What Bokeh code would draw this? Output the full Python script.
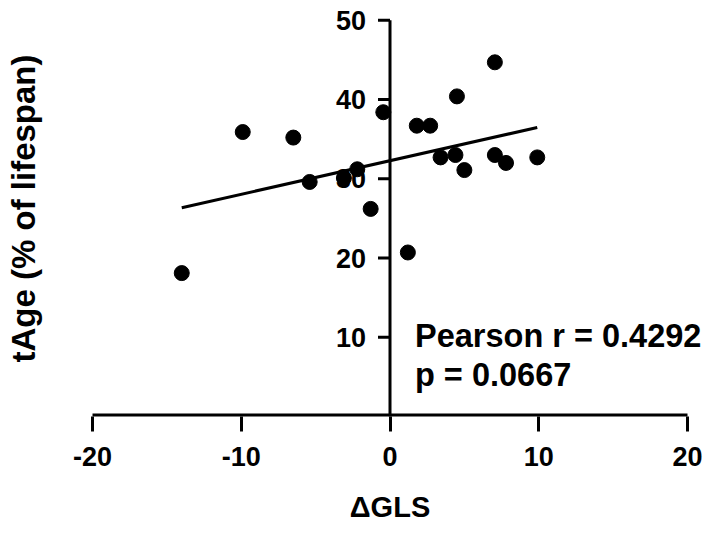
import numpy as np
from bokeh.plotting import figure
from bokeh.models import FixedTicker, Range1d, Label
from bokeh.core.properties import value
from bokeh.embed import file_html
from bokeh.resources import INLINE

# ---- data ----
delta_gls = [-14.0, -9.9, -6.5, -5.4, -3.1, -2.2, -1.3, -0.45, 1.2, 1.8,
             2.7, 3.4, 4.4, 4.5, 5.0, 7.05, 7.05, 7.8, 9.9]
tage = [18.1, 35.9, 35.2, 29.6, 30.1, 31.2, 26.2, 38.4, 20.7, 36.7,
        36.7, 32.7, 33.0, 40.4, 31.1, 44.7, 33.0, 32.0, 32.7]
x_ticks = [-20, -10, 0, 10, 20]
x_tick_labels = ["-20", "-10", "0", "10", "20"]
y_ticks = [10, 20, 30, 40, 50]
y_tick_labels = ["10", "20", "30", "40", "50"]
stats_text = ["Pearson r = 0.4292", "p = 0.0667"]
x_title = "\u0394GLS"
y_title = "tAge (% of lifespan)"

FONT = "Liberation Sans"

# frame extends a little past +/-20 so the statistics text is not clipped
p = figure(width=717, height=528, output_backend="svg", toolbar_location=None,
           x_range=Range1d(-21.345, 21.345), y_range=Range1d(0, 52.5),
           min_border_left=72, min_border_right=10, min_border_top=0,
           min_border_bottom=112)
p.outline_line_color = None
p.grid.visible = False
p.background_fill_color = "white"
p.border_fill_color = "white"

# x axis (bottom): ticks and labels from the axis, rule drawn only from -20 to 20
xa = p.xaxis[0]
xa.ticker = FixedTicker(ticks=x_ticks)
xa.major_label_overrides = {t: s for t, s in zip(x_ticks, x_tick_labels)}
xa.axis_line_color = None
xa.major_tick_line_width = 3
xa.major_tick_line_color = "black"
xa.major_tick_out = 15
xa.major_tick_in = 0
xa.minor_tick_line_color = None
xa.major_label_standoff = 15
xa.major_label_text_font = FONT
xa.major_label_text_font_style = "bold"
xa.major_label_text_font_size = "27px"
xa.major_label_text_color = "black"
xa.axis_label = x_title
xa.axis_label_text_font = FONT
xa.axis_label_text_font_style = "bold"
xa.axis_label_text_font_size = "29px"
xa.axis_label_text_color = "black"
xa.axis_label_standoff = 22

p.segment(x0=[min(x_ticks)], y0=[p.y_range.start], x1=[max(x_ticks)],
          y1=[p.y_range.start], line_width=6, line_color="black")

# left axis only carries the title
ya = p.yaxis[0]
ya.ticker = FixedTicker(ticks=[])
ya.axis_line_color = None
ya.major_tick_out = 0
ya.major_tick_in = 0
ya.minor_tick_line_color = None
ya.major_label_standoff = 0
ya.axis_label = y_title
ya.axis_label_text_font = FONT
ya.axis_label_text_font_style = "bold"
ya.axis_label_text_font_size = "33px"
ya.axis_label_text_color = "black"
ya.axis_label_standoff = 31

# y axis drawn through x = 0
p.segment(x0=[0], y0=[p.y_range.start], x1=[0], y1=[max(y_ticks)],
          line_width=3, line_color="black")
p.ray(x=[0] * len(y_ticks), y=y_ticks, length=12, length_units="screen",
      angle=np.pi, line_width=3, line_color="black")
p.text(x=[0] * len(y_ticks), y=y_ticks, text=y_tick_labels, x_offset=-24,
       text_align="right", text_baseline="middle", text_font=value(FONT),
       text_font_style="bold", text_font_size="27px", text_color="black")

# regression line
slope, intercept = np.polyfit(delta_gls, tage, 1)
fx = np.array([min(delta_gls), max(delta_gls)])
p.line(fx, slope * fx + intercept, line_width=3, line_color="black")

# points
p.scatter(delta_gls, tage, size=15, fill_color="black", line_color="black")

# statistics text
for txt, yy in zip(stats_text, [10.1, 5.3]):
    p.add_layout(Label(x=1.68, y=yy, text=txt, text_baseline="alphabetic",
                       text_font=FONT, text_font_style="bold",
                       text_font_size="32.5px", text_color="black"))

open("out.html", "w").write(file_html(p, INLINE))
